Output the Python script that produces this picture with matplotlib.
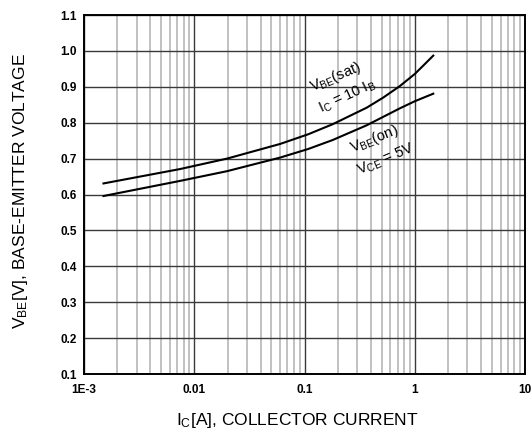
import numpy as np
import matplotlib
matplotlib.use("Agg")
import matplotlib.pyplot as plt
from matplotlib.ticker import FixedLocator, NullFormatter

plt.rcParams['font.family'] = ['Liberation Sans', 'DejaVu Sans']
plt.rcParams['mathtext.fontset'] = 'custom'
plt.rcParams['mathtext.rm'] = 'Liberation Sans'
plt.rcParams['mathtext.it'] = 'Liberation Sans'

# V_BE(sat), Ic = 10 Ib
ic_sat = [0.0015, 0.0074, 0.0197, 0.06, 0.108, 0.18, 0.366, 0.516, 0.73, 1.0, 1.2, 1.47]
vbe_sat = [0.631, 0.671, 0.700, 0.741, 0.768, 0.796, 0.842, 0.870, 0.902, 0.936, 0.960, 0.987]

# V_BE(on), Vce = 5V
ic_on = [0.0015, 0.0074, 0.0197, 0.06, 0.108, 0.18, 0.366, 0.73, 1.0, 1.47]
vbe_on = [0.596, 0.638, 0.665, 0.703, 0.727, 0.752, 0.793, 0.840, 0.860, 0.881]

x_ticks = [1e-3, 1e-2, 1e-1, 1, 10]
x_labels = ['1E-3', '0.01', '0.1', '1', '10']
y_ticks = [0.1, 0.2, 0.3, 0.4, 0.5, 0.6, 0.7, 0.8, 0.9, 1.0, 1.1]

fig = plt.figure(figsize=(5.32, 4.30), dpi=100)
ax = fig.add_axes([0.158, 0.130, 0.829, 0.835])

ax.set_xscale('log')
ax.set_xlim(1e-3, 10)
ax.set_ylim(0.1, 1.1)

ax.xaxis.set_major_locator(FixedLocator(x_ticks))
ax.set_xticklabels(x_labels)
minors = [m * d for d in [1e-3, 1e-2, 1e-1, 1] for m in range(2, 10)]
ax.xaxis.set_minor_locator(FixedLocator(minors))
ax.xaxis.set_minor_formatter(NullFormatter())
ax.set_yticks(y_ticks)
ax.set_yticklabels(['%.1f' % v for v in y_ticks])

ax.grid(which='major', color='#3a3a3a', lw=1.0)
ax.grid(which='minor', axis='x', color='#b0b0b0', lw=1.1)
ax.tick_params(which='both', length=0, labelsize=8.5)
ax.tick_params(axis='x', pad=7)
ax.tick_params(axis='y', pad=5)
for lab in ax.get_xticklabels() + ax.get_yticklabels():
    lab.set_fontweight('bold')
for s in ax.spines.values():
    s.set_linewidth(1.4)

ax.plot(ic_sat, vbe_sat, color='black', lw=1.5)
ax.plot(ic_on, vbe_on, color='black', lw=1.5)

ax.set_xlabel('I$_\\mathrm{C}$[A], COLLECTOR CURRENT', fontsize=12.5)
ax.set_ylabel('V$_\\mathrm{BE}$[V], BASE-EMITTER VOLTAGE', fontsize=12.5)
ax.xaxis.set_label_coords(0.484, -0.103)
ax.yaxis.set_label_coords(-0.122, 0.51)

ax.text(0.19, 0.926, 'V$_\\mathrm{BE}$(sat)', fontsize=10.5, rotation=23,
        ha='center', va='center')
ax.text(0.245, 0.874, 'I$_\\mathrm{C}$ = 10 I$_\\mathrm{B}$', fontsize=10.5, rotation=25,
        ha='center', va='center')
ax.text(0.43, 0.754, 'V$_\\mathrm{BE}$(on)', fontsize=10.5, rotation=22,
        ha='center', va='center')
ax.text(0.55, 0.697, 'V$_\\mathrm{CE}$ = 5V', fontsize=10.5, rotation=23,
        ha='center', va='center')

fig.savefig('out.png', dpi=100)
